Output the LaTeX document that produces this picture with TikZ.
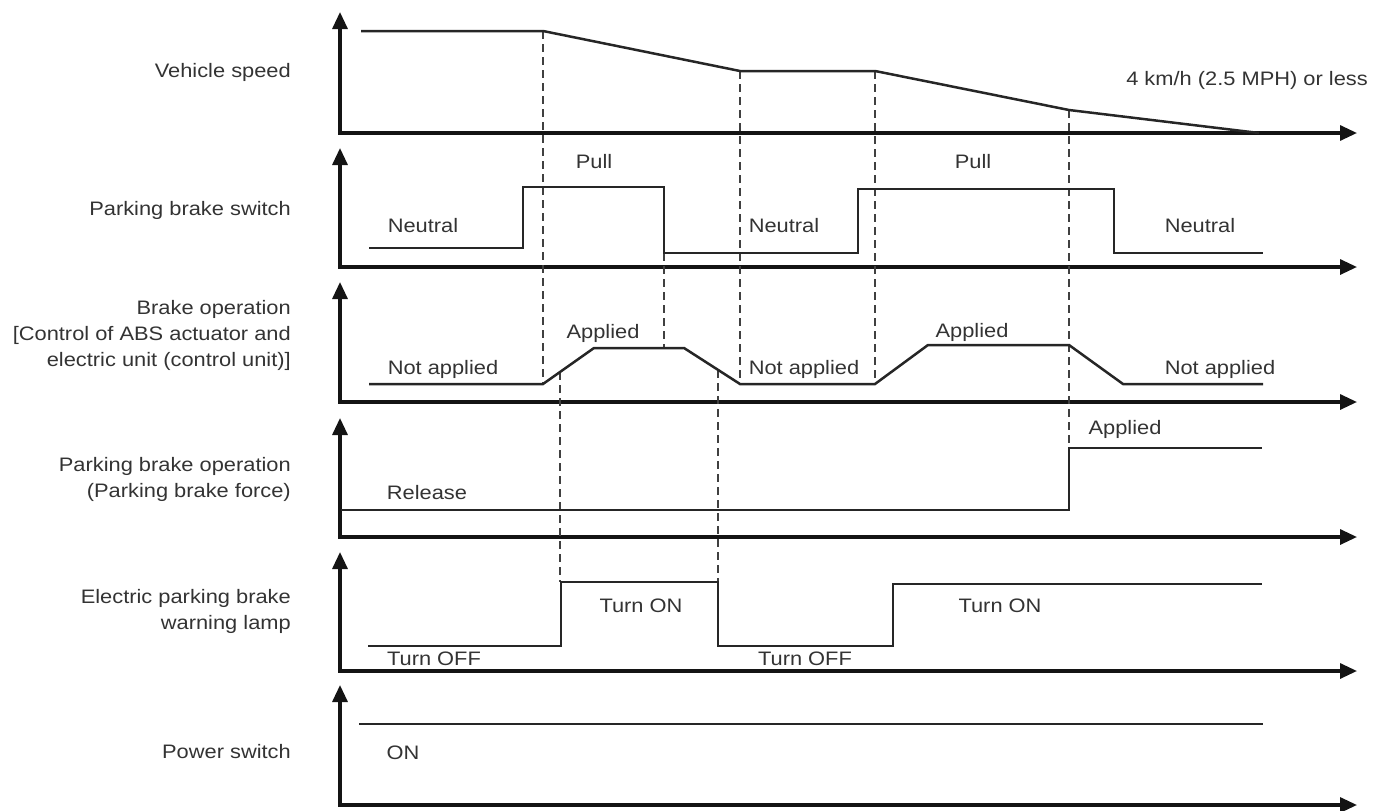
\documentclass[tikz,border=0pt]{standalone}
\usepackage{fontspec}
\setmainfont{Liberation Sans}[FakeStretch=1.12]
\usetikzlibrary{arrows.meta}
\begin{document}
\begin{tikzpicture}[x=1pt,y=-1pt,
  axisline/.style={line width=3.2pt,-{Triangle[width=15pt,length=17pt]},color=black!92},
  sig/.style={line width=2.5pt,color=black!85,line join=miter},
  guide/.style={line width=2.3pt,color=black!75,dash pattern=on 8pt off 5pt},
  lbl/.style={font=\fontsize{19.5}{26}\selectfont,text=black!80,inner sep=0pt,text height=14pt,text depth=4pt},
  side/.style={font=\fontsize{19.5}{26}\selectfont,text=black!80,inner sep=0pt,align=right,anchor=east}]
\useasboundingbox (0,0) rectangle (1384,811);
% axes
\foreach \n/\ya/\yt in {1/133/12,2/267/148,3/402/282,4/537/418,5/671/552,6/805/685}{
  \coordinate (o\n) at (340,\ya);
  \coordinate (t\n) at (340,\yt);
  \coordinate (r\n) at (1357,\ya);
  \draw[axisline] ([yshift=-1.6pt]o\n) -- (t\n);
  \draw[axisline] ([xshift=-1.6pt]o\n) -- (r\n);
}
% side labels
\node[side] (l1) at (291,72) {Vehicle speed};
\node[side] (l2) at (291,210) {Parking brake switch};
\node[side] (l3) at (291,335) {Brake operation\\{[}Control of ABS actuator and\\electric unit (control unit)]};
\node[side] (l4) at (291,479) {Parking brake operation\\(Parking brake force)};
\node[side] (l5) at (291,611) {Electric parking brake\\warning lamp};
\node[side] (l6) at (291,752) {Power switch};
% guide lines
\draw[guide] (543,31) -- (543,384);
\draw[guide] (740,71) -- (740,384);
\draw[guide] (875,71) -- (875,384);
\draw[guide] (1069,110) -- (1069,448);
\draw[guide] (664,253) -- (664,348);
\draw[guide] (560,372) -- (560,582);
\draw[guide] (718,370) -- (718,582);
% waveforms
\draw[sig] (361,31) -- (543,31) -- (740,71) -- (875,71) -- (1069,110) -- (1259,133);
\draw[sig] (369,248) -- (523,248) -- (523,187) -- (664,187) -- (664,253) -- (858,253) -- (858,189) -- (1114,189) -- (1114,253) -- (1263,253);
\draw[sig] (369,384) -- (543,384) -- (594,348) -- (684,348) -- (740,384) -- (875,384) -- (928,345) -- (1069,345) -- (1123,384) -- (1263,384);
\draw[sig] (341,510) -- (1069,510) -- (1069,448) -- (1262,448);
\draw[sig] (368,646) -- (561,646) -- (561,582) -- (718,582) -- (718,646) -- (893,646) -- (893,584) -- (1262,584);
\draw[sig] (359,724) -- (1263,724);
% state labels
\node[lbl,anchor=east] (s0) at (1368,80) {4 km/h (2.5 MPH) or less};
\node[lbl] (s1) at (594,163) {Pull};
\node[lbl] (s2) at (973,163) {Pull};
\node[lbl] (s3) at (423,227) {Neutral};
\node[lbl] (s4) at (784,227) {Neutral};
\node[lbl] (s5) at (1200,227) {Neutral};
\node[lbl] (s6) at (603,333) {Applied};
\node[lbl] (s7) at (972,332) {Applied};
\node[lbl] (s8) at (443,369) {Not applied};
\node[lbl] (s9) at (804,369) {Not applied};
\node[lbl] (s10) at (1220,369) {Not applied};
\node[lbl] (s11) at (427,494) {Release};
\node[lbl] (s12) at (1125,429) {Applied};
\node[lbl] (s13) at (434,660) {Turn OFF};
\node[lbl] (s14) at (805,660) {Turn OFF};
\node[lbl] (s15) at (641,607) {Turn ON};
\node[lbl] (s16) at (1000,607) {Turn ON};
\node[lbl] (s17) at (403,754) {ON};
\end{tikzpicture}
\end{document}
